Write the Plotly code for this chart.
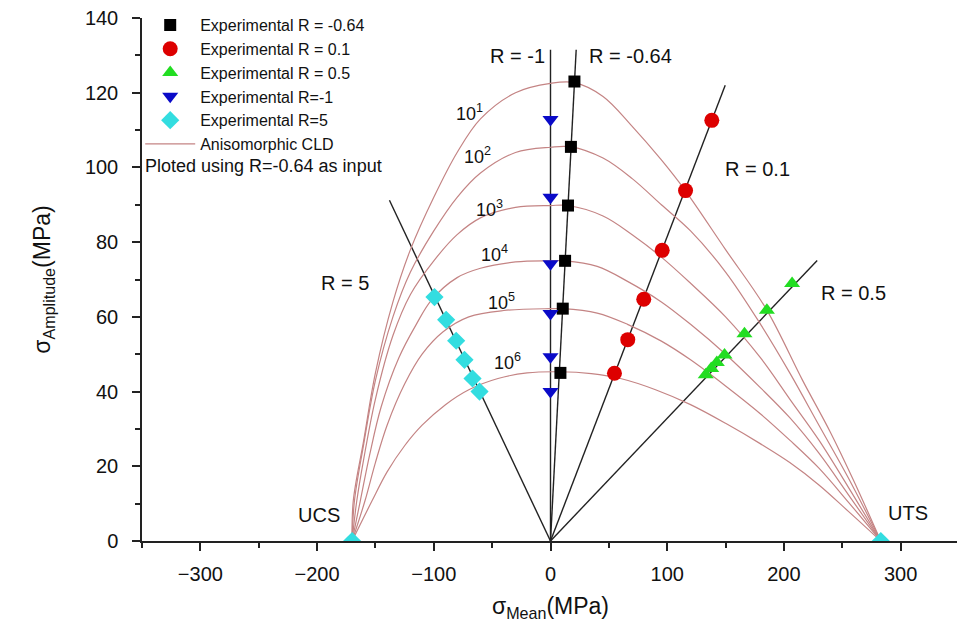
import plotly.graph_objects as go

# ---------------- data ----------------
# Experimental points  (sigma_mean, sigma_amplitude)  in MPa
exp_r064_mean = [20.5, 17.5, 15.0, 12.5, 10.5, 8.5]
exp_r064_amp = [123.0, 105.5, 89.8, 75.0, 62.2, 45.0]

exp_r01_mean = [138.2, 115.7, 95.7, 79.9, 66.2, 54.8]
exp_r01_amp = [112.6, 93.8, 77.8, 64.7, 53.9, 44.9]

exp_r05_mean = [207.0, 185.4, 166.2, 149.1, 142.5, 137.7, 133.0]
exp_r05_amp = [68.9, 61.8, 55.5, 49.8, 47.8, 46.2, 44.5]

exp_rm1_mean = [0.0, 0.0, 0.0, 0.0, 0.0, 0.0]
exp_rm1_amp = [112.8, 92.0, 74.2, 60.9, 49.3, 40.0]

exp_r5_mean = [-99.4, -89.4, -80.8, -73.7, -66.8, -60.8, -170.0, 283.0]
exp_r5_amp = [65.3, 59.2, 53.6, 48.5, 43.5, 40.0, 0.0, 0.0]

# Constant life curves (anisomorphic CLD)
cld_labels = ["10<sup>1</sup>", "10<sup>2</sup>", "10<sup>3</sup>",
              "10<sup>4</sup>", "10<sup>5</sup>", "10<sup>6</sup>"]
cld1_x = [-170, -169, -160, -150, -135, -120, -100, -80, -60, -30, 0, 20.5, 45, 70, 95, 115, 150, 185, 216, 240, 260, 283]
cld1_y = [0, 10.7, 27, 45, 64, 78, 92, 104, 113, 120, 122.5, 122.7, 119, 111, 102, 94, 78, 62, 43, 29, 16, 0]
cld2_x = [-170, -168, -160, -150, -135, -120, -100, -80, -60, -30, 0, 17.5, 45, 70, 95, 120, 150, 180, 205, 230, 255, 283]
cld2_y = [0, 10.7, 26, 43, 60, 72, 83, 92, 98.5, 104, 105.4, 105.5, 102.5, 97, 90, 83, 72, 58, 45, 31, 17, 0]
cld3_x = [-170, -166, -160, -150, -135, -120, -100, -80, -60, -30, 0, 15, 45, 70, 95, 120, 150, 180, 205, 230, 255, 283]
cld3_y = [0, 10.7, 22, 38, 55, 66, 75, 82, 86.5, 89.3, 89.8, 89.8, 87, 82, 76, 69, 60, 49, 38, 27, 14.5, 0]
cld4_x = [-170, -163, -155, -145, -130, -115, -102, -80, -60, -30, 0, 12.5, 40, 66, 95, 120, 150, 180, 205, 230, 255, 283]
cld4_y = [0, 10.7, 23, 36, 49, 58, 64.5, 70.5, 73, 74.7, 75, 75, 73.5, 69.5, 64, 58, 50, 41, 33, 23.5, 12.5, 0]
cld5_x = [-170, -159, -150, -140, -125, -110, -92, -70, -40, 0, 10.5, 40, 66, 95, 120, 150, 180, 205, 230, 255, 283]
cld5_y = [0, 10.7, 21, 31, 42, 50, 56, 60, 61.7, 62.2, 62.2, 61, 58, 53.5, 48.5, 41.5, 34, 27, 19.5, 10.5, 0]
cld6_x = [-170, -153, -140, -125, -110, -90, -70, -45, -20, 8, 35, 60, 90, 120, 150, 180, 205, 230, 255, 283]
cld6_y = [0, 10.7, 18.5, 25.5, 31, 36.5, 40.5, 43.5, 45, 45.3, 44.8, 43.5, 40.5, 36.5, 31.5, 26, 21, 15, 8, 0]
cld_x = [cld1_x, cld2_x, cld3_x, cld4_x, cld5_x, cld6_x]
cld_y = [cld1_y, cld2_y, cld3_y, cld4_y, cld5_y, cld6_y]
cld_label_x = [-69.4, -62.3, -52.3, -48.0, -42.2, -36.6]
cld_label_y = [114.7, 103.1, 88.9, 76.9, 64.0, 48.0]

# Radial R-ratio lines: end point of each line (all start at the origin)
r_line_names = ["R = -1", "R = -0.64", "R = 0.1", "R = 0.5", "R = 5"]
r_line_end_x = [0.0, 22.0, 149.7, 228.5, -138.0]
r_line_end_y = [131.5, 131.5, 122.0, 75.1, 91.2]

CLD_COLOR = "#c48484"
FONT = "Liberation Sans, Arial, sans-serif"

fig = go.Figure()

# R lines
for name, ex, ey in zip(r_line_names, r_line_end_x, r_line_end_y):
    fig.add_trace(go.Scatter(x=[0, ex], y=[0, ey], mode="lines",
                             line=dict(color="#222222", width=1.4),
                             showlegend=False, hoverinfo="skip"))

# CLD curves
for i, (cx, cy) in enumerate(zip(cld_x, cld_y)):
    fig.add_trace(go.Scatter(x=cx, y=cy, mode="lines",
                             line=dict(color=CLD_COLOR, width=1.2, shape="spline", smoothing=1.0),
                             name="Anisomorphic CLD", legendrank=6,
                             showlegend=(i == 0)))

# Experimental points
fig.add_trace(go.Scatter(x=exp_r064_mean, y=exp_r064_amp, mode="markers",
                         name="Experimental R = -0.64", legendrank=1,
                         marker=dict(symbol="square", size=12, color="#000000")))
fig.add_trace(go.Scatter(x=exp_r01_mean, y=exp_r01_amp, mode="markers",
                         name="Experimental R = 0.1", legendrank=2,
                         marker=dict(symbol="circle", size=15, color="#dd0000")))
fig.add_trace(go.Scatter(x=exp_r05_mean, y=exp_r05_amp, mode="markers",
                         name="Experimental R = 0.5", legendrank=3,
                         marker=dict(symbol="triangle-up", size=14, color="#22dd22")))
fig.add_trace(go.Scatter(x=exp_rm1_mean, y=exp_rm1_amp, mode="markers",
                         name="Experimental R=-1", legendrank=4,
                         marker=dict(symbol="triangle-down", size=14, color="#0a0ac8")))
fig.add_trace(go.Scatter(x=exp_r5_mean, y=exp_r5_amp, mode="markers",
                         name="Experimental R=5", legendrank=5,
                         marker=dict(symbol="diamond", size=14, color="#33dde0")))

annotations = []
# CLD labels
for lab, lx, ly in zip(cld_labels, cld_label_x, cld_label_y):
    annotations.append(dict(x=lx, y=ly, text=lab, showarrow=False,
                            font=dict(size=18, color="#111111", family=FONT)))
# R labels
annotations += [
    dict(x=-3, y=129.8, text="R = -1", xanchor="right", showarrow=False),
    dict(x=31, y=129.8, text="R = -0.64", xanchor="left", showarrow=False),
    dict(x=177, y=99.5, text="R = 0.1", showarrow=False),
    dict(x=260, y=66.5, text="R = 0.5", showarrow=False),
    dict(x=-176, y=69.0, text="R = 5", showarrow=False),
    dict(x=-198, y=7.0, text="UCS", showarrow=False),
    dict(x=306, y=7.5, text="UTS", showarrow=False),
]
for a in annotations:
    a.setdefault("font", dict(size=20, color="#111111", family=FONT))
annotations.append(dict(x=-349, y=100.5, text="Ploted using R=-0.64 as input", xanchor="left",
                        showarrow=False, font=dict(size=18, color="#111111", family=FONT)))

axis_common = dict(showline=True, linecolor="#222222", linewidth=1.5, mirror=False,
                   ticks="outside", ticklen=8, tickwidth=1.5, tickcolor="#222222",
                   showgrid=False, zeroline=False, automargin=False,
                   ticklabeloverflow="allow",
                   tickfont=dict(size=20, color="#111111", family=FONT))

fig.update_layout(
    width=965, height=630,
    margin=dict(l=134, r=14, t=10, b=97, autoexpand=False),
    paper_bgcolor="white", plot_bgcolor="white",
    font=dict(family=FONT, color="#111111"),
    showlegend=True,
    legend=dict(x=-0.0022, y=1.019, xanchor="left", yanchor="top",
                bgcolor="rgba(255,255,255,0)", font=dict(size=16, family=FONT, color="#111111"),
                itemwidth=50, tracegroupgap=0),
    annotations=annotations,
)
fig.update_xaxes(range=[-350, 350], dtick=100, tick0=0,
                 minor=dict(dtick=50, ticks="outside", ticklen=5, tickcolor="#222222"),
                 ticklabelstandoff=6,
                 title=dict(text="σ<sub>Mean</sub>(MPa)", font=dict(size=23, family=FONT), standoff=14),
                 **axis_common)
fig.update_yaxes(range=[0, 140], dtick=20, tick0=0,
                 minor=dict(dtick=10, ticks="outside", ticklen=5, tickcolor="#222222"),
                 ticklabelstandoff=10,
                 title=dict(text="σ<sub>Amplitude</sub>(MPa)", font=dict(size=23, family=FONT), standoff=28),
                 **axis_common)

fig.write_html("out.html")
